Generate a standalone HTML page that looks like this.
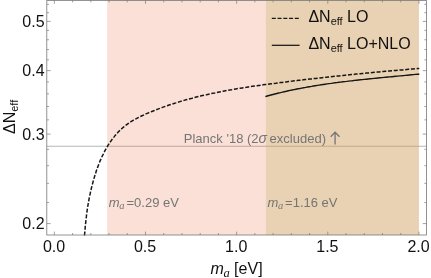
<!DOCTYPE html>
<html><head><meta charset="utf-8"><style>
html,body{margin:0;padding:0;background:#fff;}
svg{display:block;will-change:transform;opacity:0.999;}
text{font-family:"Liberation Sans",sans-serif;}
.it{font-family:"Liberation Serif",serif;font-style:italic;}
.si{font-family:"Liberation Sans",sans-serif;font-style:italic;}
</style></head><body>
<svg width="431" height="278" viewBox="0 0 431 278">
<path d="M46.8,146.25 H426.55" stroke="#b6b6b6" stroke-width="1.0" fill="none"/>
<rect x="107.22" y="0" width="158.60" height="235.0" fill="rgb(235,98,53)" fill-opacity="0.2"/>
<rect x="265.82" y="0" width="153.13" height="235.0" fill="rgb(206,155,86)" fill-opacity="0.45"/>
<path d="M84.5,235.0 L84.7,232.9 L84.9,230.7 L85.1,228.6 L85.2,226.5 L85.4,224.4 L85.7,222.2 L85.9,220.1 L86.1,218.0 L86.4,215.9 L86.6,213.8 L86.9,211.7 L87.2,209.7 L87.5,207.6 L87.8,205.5 L88.2,203.4 L88.6,201.4 L88.9,199.3 L89.3,197.2 L89.7,195.2 L90.2,193.1 L90.6,191.0 L91.1,189.0 L91.6,186.9 L92.1,184.8 L92.7,182.8 L93.2,180.7 L93.8,178.7 L94.4,176.6 L95.0,174.6 L95.7,172.5 L96.3,170.5 L97.0,168.4 L97.8,166.4 L98.5,164.4 L99.3,162.4 L100.1,160.4 L101.0,158.4 L101.8,156.5 L102.8,154.6 L103.7,152.6 L104.7,150.7 L105.7,148.9 L106.8,147.0 L107.8,145.2 L109.0,143.4 L110.1,141.7 L111.4,139.9 L112.6,138.2 L113.9,136.6 L115.2,134.9 L116.6,133.4 L118.0,131.8 L119.5,130.3 L121.0,128.9 L122.5,127.5 L124.1,126.1 L125.7,124.8 L127.4,123.6 L129.1,122.4 L130.9,121.2 L132.7,120.1 L134.5,119.1 L136.4,118.1 L138.2,117.1 L140.1,116.1 L142.1,115.2 L144.0,114.3 L145.9,113.4 L147.9,112.6 L149.9,111.8 L151.9,111.0 L153.8,110.2 L155.8,109.4 L157.8,108.6 L159.8,107.9 L161.8,107.1 L163.8,106.4 L165.8,105.7 L167.8,105.0 L169.8,104.3 L171.8,103.7 L173.9,103.0 L175.9,102.4 L177.9,101.7 L179.9,101.1 L182.0,100.5 L184.0,99.9 L186.0,99.3 L188.1,98.8 L190.1,98.2 L192.2,97.7 L194.2,97.1 L196.3,96.6 L198.3,96.1 L200.4,95.6 L202.5,95.1 L204.5,94.6 L206.6,94.2 L208.7,93.7 L210.7,93.2 L212.8,92.8 L214.9,92.4 L217.0,91.9 L219.1,91.5 L221.1,91.1 L223.2,90.7 L225.3,90.3 L227.4,89.9 L229.5,89.5 L231.6,89.2 L233.7,88.8 L235.8,88.4 L237.9,88.1 L240.0,87.8 L242.1,87.4 L244.2,87.1 L246.3,86.8 L248.4,86.4 L250.5,86.1 L252.6,85.8 L254.7,85.5 L256.8,85.2 L258.9,84.9 L261.0,84.6 L263.1,84.3 L265.2,84.0 L267.3,83.8 L269.4,83.5 L271.5,83.2 L273.7,82.9 L275.8,82.7 L277.9,82.4 L280.0,82.1 L282.1,81.9 L284.2,81.6 L286.3,81.4 L288.4,81.1 L290.5,80.8 L292.6,80.6 L294.7,80.3 L296.9,80.1 L299.0,79.8 L301.1,79.6 L303.2,79.3 L305.3,79.1 L307.4,78.9 L309.5,78.6 L311.6,78.4 L313.7,78.1 L315.8,77.9 L317.9,77.7 L320.0,77.4 L322.1,77.2 L324.2,77.0 L326.3,76.7 L328.5,76.5 L330.6,76.3 L332.7,76.0 L334.8,75.8 L336.9,75.6 L339.0,75.4 L341.1,75.2 L343.2,74.9 L345.3,74.7 L347.4,74.5 L349.5,74.3 L351.6,74.1 L353.7,73.9 L355.9,73.6 L358.0,73.4 L360.1,73.2 L362.2,73.0 L364.3,72.8 L366.4,72.6 L368.5,72.4 L370.6,72.2 L372.7,72.0 L374.8,71.8 L377.0,71.6 L379.1,71.4 L381.2,71.2 L383.3,71.0 L385.4,70.8 L387.5,70.6 L389.6,70.5 L391.8,70.3 L393.9,70.1 L396.0,69.9 L398.1,69.7 L400.2,69.5 L402.4,69.4 L404.5,69.2 L406.6,69.0 L408.7,68.8 L410.9,68.6 L413.0,68.5 L415.1,68.3 L417.2,68.1 L419.3,67.9" stroke="#161616" stroke-width="1.5" fill="none" stroke-dasharray="4 1.75" transform="translate(0,0.5)"/>
<path d="M265.4,96.2 L267.2,95.5 L269.1,95.0 L271.0,94.5 L272.9,94.0 L274.9,93.5 L276.8,93.0 L278.7,92.5 L280.6,92.1 L282.5,91.6 L284.4,91.2 L286.4,90.8 L288.3,90.3 L290.2,89.9 L292.1,89.5 L294.1,89.1 L296.0,88.7 L297.9,88.3 L299.9,88.0 L301.8,87.6 L303.7,87.2 L305.7,86.9 L307.6,86.5 L309.6,86.2 L311.5,85.9 L313.5,85.5 L315.4,85.2 L317.3,84.9 L319.3,84.6 L321.2,84.3 L323.2,84.0 L325.1,83.7 L327.1,83.4 L329.0,83.1 L331.0,82.9 L333.0,82.6 L334.9,82.3 L336.9,82.1 L338.8,81.8 L340.8,81.6 L342.7,81.3 L344.7,81.1 L346.7,80.9 L348.6,80.6 L350.6,80.4 L352.5,80.2 L354.5,79.9 L356.5,79.7 L358.4,79.5 L360.4,79.3 L362.3,79.1 L364.3,78.9 L366.3,78.7 L368.2,78.5 L370.2,78.3 L372.2,78.1 L374.1,77.9 L376.1,77.7 L378.1,77.5 L380.0,77.3 L382.0,77.1 L384.0,76.9 L385.9,76.7 L387.9,76.5 L389.8,76.4 L391.8,76.2 L393.8,76.0 L395.7,75.8 L397.7,75.6 L399.7,75.4 L401.6,75.3 L403.6,75.1 L405.5,74.9 L407.5,74.7 L409.5,74.5 L411.4,74.3 L413.4,74.1 L415.3,73.9 L417.3,73.7 L419.3,73.8" stroke="#161616" stroke-width="1.4" fill="none" transform="translate(0,0.5)"/>
<rect x="46.8" y="0.4" width="379.75" height="234.6" fill="none" stroke="#787878" stroke-width="0.8"/>
<path d="M54.35,235.0 v-3.4 M54.35,0.4 v3.4 M72.58,235.0 v-2.0 M72.58,0.4 v2.0 M90.81,235.0 v-2.0 M90.81,0.4 v2.0 M109.04,235.0 v-2.0 M109.04,0.4 v2.0 M127.27,235.0 v-2.0 M127.27,0.4 v2.0 M145.50,235.0 v-3.4 M145.50,0.4 v3.4 M163.73,235.0 v-2.0 M163.73,0.4 v2.0 M181.96,235.0 v-2.0 M181.96,0.4 v2.0 M200.19,235.0 v-2.0 M200.19,0.4 v2.0 M218.42,235.0 v-2.0 M218.42,0.4 v2.0 M236.65,235.0 v-3.4 M236.65,0.4 v3.4 M254.88,235.0 v-2.0 M254.88,0.4 v2.0 M273.11,235.0 v-2.0 M273.11,0.4 v2.0 M291.34,235.0 v-2.0 M291.34,0.4 v2.0 M309.57,235.0 v-2.0 M309.57,0.4 v2.0 M327.80,235.0 v-3.4 M327.80,0.4 v3.4 M346.03,235.0 v-2.0 M346.03,0.4 v2.0 M364.26,235.0 v-2.0 M364.26,0.4 v2.0 M382.49,235.0 v-2.0 M382.49,0.4 v2.0 M400.72,235.0 v-2.0 M400.72,0.4 v2.0 M418.95,235.0 v-3.4 M418.95,0.4 v3.4 M46.8,223.59 h3.8 M426.55,223.59 h-3.8 M46.8,202.55 h2.2 M426.55,202.55 h-2.2 M46.8,183.35 h2.2 M426.55,183.35 h-2.2 M46.8,165.68 h2.2 M426.55,165.68 h-2.2 M46.8,149.33 h2.2 M426.55,149.33 h-2.2 M46.8,134.10 h3.8 M426.55,134.10 h-3.8 M46.8,119.86 h2.2 M426.55,119.86 h-2.2 M46.8,106.48 h2.2 M426.55,106.48 h-2.2 M46.8,93.86 h2.2 M426.55,93.86 h-2.2 M46.8,81.93 h2.2 M426.55,81.93 h-2.2 M46.8,70.61 h3.8 M426.55,70.61 h-3.8 M46.8,59.84 h2.2 M426.55,59.84 h-2.2 M46.8,49.57 h2.2 M426.55,49.57 h-2.2 M46.8,39.76 h2.2 M426.55,39.76 h-2.2 M46.8,30.37 h2.2 M426.55,30.37 h-2.2 M46.8,21.36 h3.8 M426.55,21.36 h-3.8 M46.8,12.70 h2.2 M426.55,12.70 h-2.2 M46.8,4.37 h2.2 M426.55,4.37 h-2.2" stroke="#787878" stroke-width="0.7" fill="none"/>
<g font-size="16" fill="#111">
<text x="44.6" y="26.8" text-anchor="end">0.5</text>
<text x="44.6" y="76.0" text-anchor="end">0.4</text>
<text x="44.6" y="139.5" text-anchor="end">0.3</text>
<text x="44.6" y="229.0" text-anchor="end">0.2</text>
<text x="54.0" y="252.0" text-anchor="middle">0.0</text>
<text x="145.1" y="252.0" text-anchor="middle">0.5</text>
<text x="236.2" y="252.0" text-anchor="middle">1.0</text>
<text x="327.4" y="252.0" text-anchor="middle">1.5</text>
<text x="418.6" y="252.0" text-anchor="middle">2.0</text>
<text x="210.6" y="273.8"><tspan class="si">m</tspan><tspan class="it" font-size="12.5" dy="2.8" dx="-0.5">a</tspan><tspan dy="-2.8"> [eV]</tspan></text>
<text transform="translate(14.6,134) rotate(-90)">ΔN<tspan font-size="11" dy="3.3">eff</tspan></text>
<text x="308.4" y="21.7">ΔN<tspan font-size="11" dy="3">eff</tspan><tspan dy="-3"> LO</tspan></text>
<text x="308.4" y="48.7">ΔN<tspan font-size="11" dy="3">eff</tspan><tspan dy="-3"> LO+NLO</tspan></text>
</g>
<path d="M271.8,18.4 H299" stroke="#161616" stroke-width="1.25" stroke-dasharray="4 1.75"/>
<path d="M271.8,45.3 H299.6" stroke="#161616" stroke-width="1.25"/>
<g font-size="13" fill="#757575">
<text x="183.8" y="142.8">Planck '18 (2<tspan class="si" font-size="14">σ</tspan><tspan dx="-1"> excluded)</tspan></text>
<text x="108.8" y="206.7"><tspan class="si">m</tspan><tspan class="it" font-size="10.5" dy="2.3" dx="-0.3">a</tspan><tspan dy="-2.3" dx="1.9">=0.29 eV</tspan></text>
<text x="267.4" y="206.7"><tspan class="si">m</tspan><tspan class="it" font-size="10.5" dy="2.3" dx="-0.3">a</tspan><tspan dy="-2.3" dx="1.9">=1.16 eV</tspan></text>
</g>
<path d="M335.1,144.5 V132.4 M330.7,136.8 L335.1,132.2 L339.5,136.8" stroke="#757575" stroke-width="1.3" fill="none"/>
</svg>
</body></html>
